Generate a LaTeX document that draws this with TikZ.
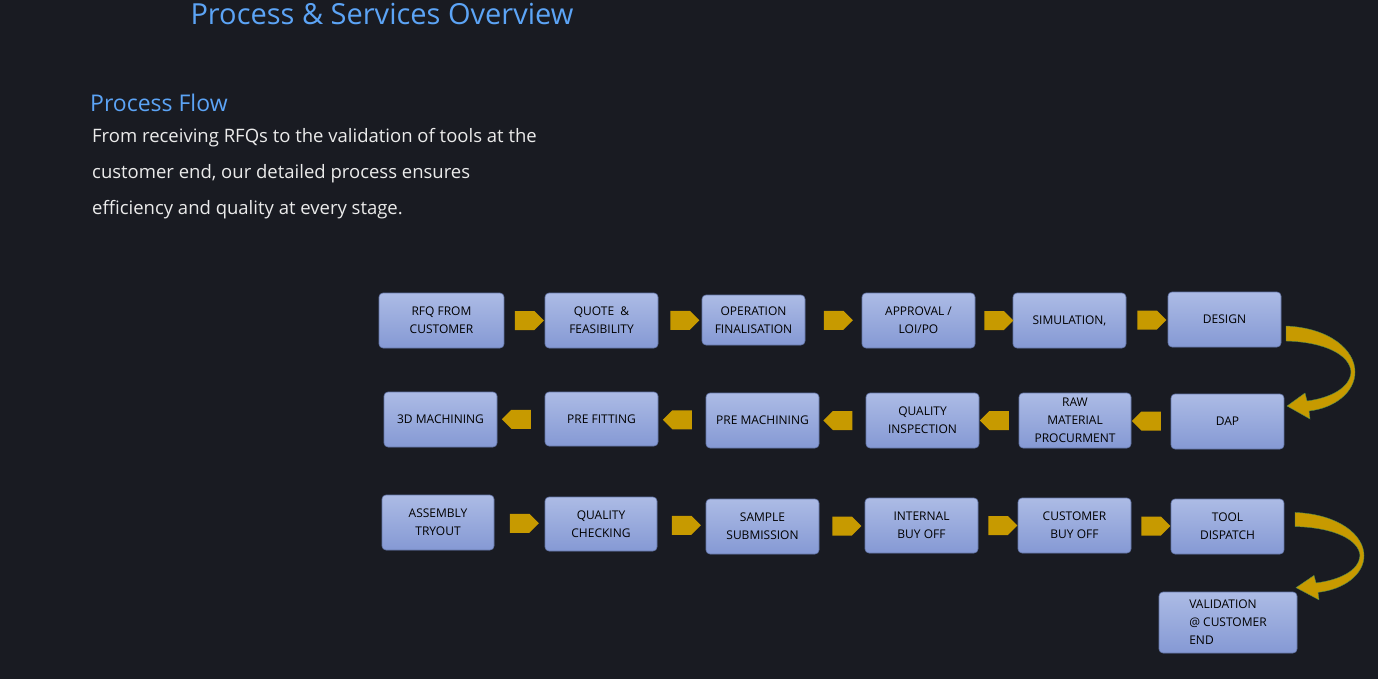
\documentclass[tikz,border=0pt]{standalone}
\usepackage{fontspec}
\setmainfont{Open Sans}
\usetikzlibrary{shapes.arrows}
\definecolor{bg}{HTML}{191B22}
\definecolor{ttl}{HTML}{5CA4F6}
\definecolor{gold}{HTML}{C79A00}
\definecolor{btop}{HTML}{ACBBE5}
\definecolor{bbot}{HTML}{8599D4}
\definecolor{bdr}{HTML}{6476A8}
\begin{document}
\begin{tikzpicture}[x=1pt,y=-1pt,
  box/.style={draw=bdr,line width=0.6pt,rounded corners=4pt,top color=btop,bottom color=bbot,
    align=center,font=\fontsize{12}{18}\selectfont,text=black,inner sep=2pt},
  sarr/.style={single arrow,fill=gold,draw=none,minimum height=29pt,minimum width=19pt,
    single arrow head extend=0pt,single arrow tip angle=90,inner sep=0pt,outer sep=0pt,
    single arrow head indent=0pt},
  larr/.style={sarr,shape border rotate=180},
  curv/.style={fill=gold,draw=teal!60!gold,line width=0.4pt}]
\fill[bg] (0,0) rectangle (1378,679);
\useasboundingbox (0,0) rectangle (1378,679);
\node[anchor=base west,text=ttl,font=\fontsize{29}{34}\selectfont] (title) at (187,25) {Process \& Services Overview};
\node[anchor=west,text=ttl,font=\fontsize{23}{28}\selectfont,inner sep=0pt] (pf) at (90,103) {Process Flow};
\node[anchor=north west,text=white!92!black,font=\fontsize{18.5}{36}\selectfont,align=left,inner sep=0pt] (desc) at (92,128)
 {From receiving RFQs to the validation of tools at the\\customer end, our detailed process ensures\\efficiency and quality at every stage.};
\newcommand{\bx}[6]{\node[box,minimum width={#4-#2},minimum height={#5-#3}] (#1) at ({(#2+#4)/2},{(#3+#5)/2}) {#6};}
% row 1
\bx{a1}{379}{293}{504}{348}{RFQ FROM\\CUSTOMER}
\bx{a2}{545}{293}{658}{348}{QUOTE \ \&\\FEASIBILITY}
\bx{a3}{702}{295}{805}{345}{OPERATION\\FINALISATION}
\bx{a4}{862}{293}{975}{348}{APPROVAL /\\LOI/PO}
\bx{a5}{1013}{293}{1126}{348}{SIMULATION,}
\bx{a6}{1168}{292}{1281}{347}{DESIGN}
% row 2
\bx{b1}{384}{392}{497}{447}{3D MACHINING}
\bx{b2}{545}{392}{658}{446}{PRE FITTING}
\bx{b3}{706}{393}{819}{448}{PRE MACHINING}
\bx{b4}{866}{393}{979}{448}{QUALITY\\INSPECTION}
\bx{b5}{1019}{393}{1131}{448}{RAW\\MATERIAL\\PROCURMENT}
\bx{b6}{1171}{394}{1284}{449}{DAP}
% row 3
\bx{c1}{382}{495}{494}{550}{ASSEMBLY\\TRYOUT}
\bx{c2}{545}{497}{657}{551}{QUALITY\\CHECKING}
\bx{c3}{706}{499}{819}{554}{SAMPLE\\SUBMISSION}
\bx{c4}{865}{498}{978}{553}{INTERNAL\\BUY OFF}
\bx{c5}{1018}{498}{1131}{553}{CUSTOMER\\BUY OFF}
\bx{c6}{1171}{499}{1284}{554}{TOOL\\DISPATCH}
\node[box,minimum width=138,minimum height=61,align=left] (d1) at (1228,622.5) {VALIDATION\\@ CUSTOMER\\END};
% straight arrows
\foreach \p/\q in {a1/a2,a2/a3,a3/a4,a4/a5,a5/a6,c1/c2,c2/c3,c3/c4,c4/c5,c5/c6}
  \path (\p.east) -- (\q.west) node[midway,sarr] {};
\foreach \p/\q in {b6/b5,b5/b4,b4/b3,b3/b2,b2/b1}
  \path (\p.west) -- (\q.east) node[midway,larr] {};
% curved arrows
\coordinate (k1) at (0,0);
\coordinate (k2) at (9,206);
\foreach \k/\sy in {k1/1,k2/0.94}{
\begin{scope}[shift={(\k)}]
\begin{scope}[yscale=\sy,shift={(0,0)}]
\filldraw[curv] (1286,326) .. controls (1330,328) and (1355,350) .. (1355,372)
  .. controls (1355,392) and (1335,408) .. (1309,411) -- (1310,419) -- (1287,406) -- (1305,393) -- (1307,401)
  .. controls (1330,398) and (1350,388) .. (1351,372)
  .. controls (1350,355) and (1325,342) .. (1286,341) -- cycle;
\end{scope}
\end{scope}}
\end{tikzpicture}
\end{document}
